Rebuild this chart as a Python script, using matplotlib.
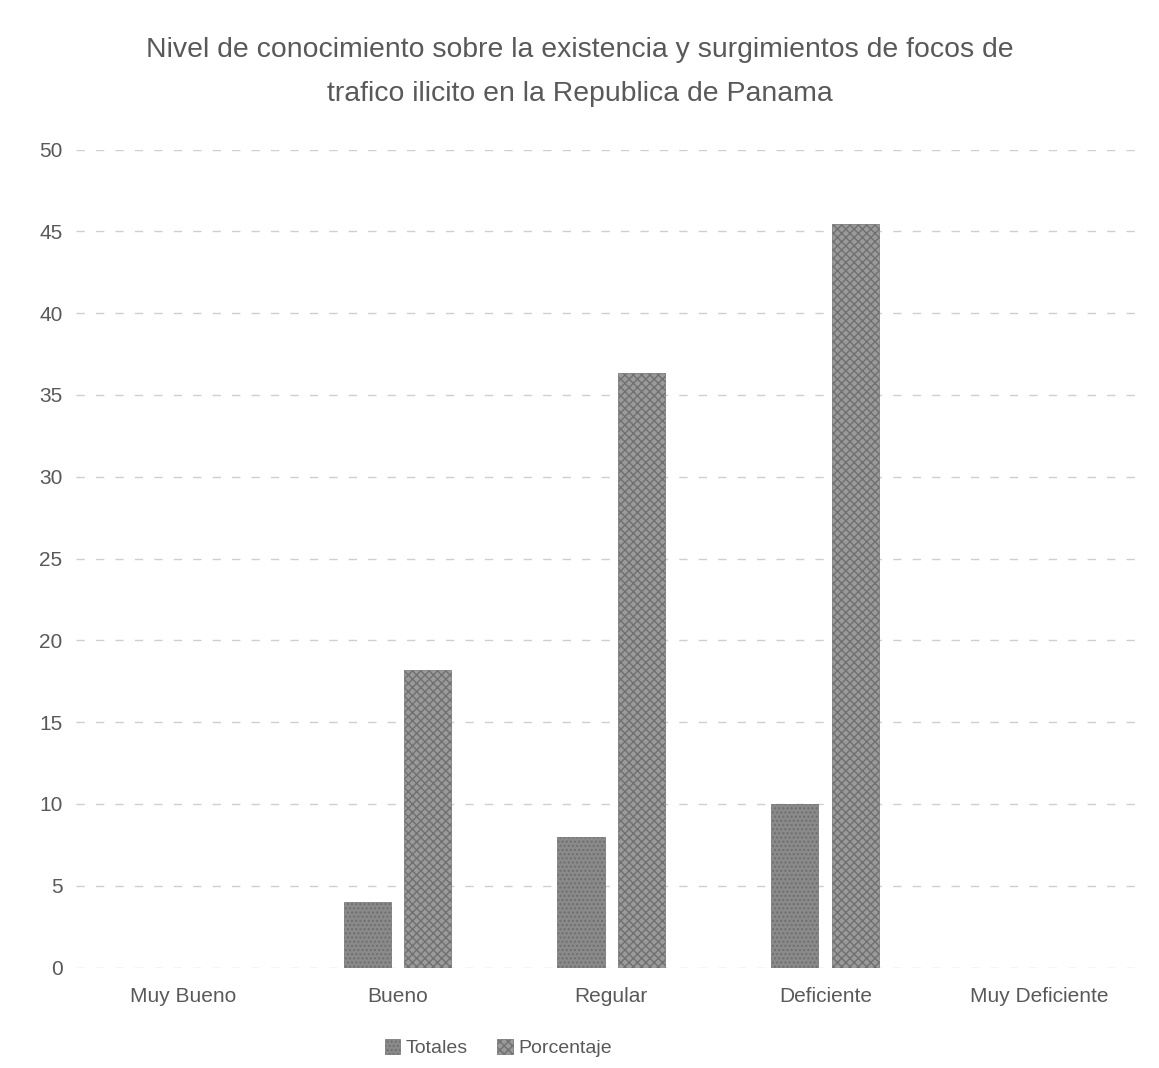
import numpy as np
import matplotlib.pyplot as plt

categorias = ["Muy Bueno", "Bueno", "Regular", "Deficiente", "Muy Deficiente"]
totales = [0, 4, 8, 10, 0]
porcentaje = [0, 18.18, 36.36, 45.45, 0]

plt.rcParams['font.family'] = ['Liberation Sans', 'DejaVu Sans']

fig = plt.figure(figsize=(11.59, 10.68), dpi=100)
ax = fig.add_axes([0.066, 0.094, 0.923, 0.766])

x = np.arange(len(categorias))
w = 0.22
gris = '#595959'

ax.bar(x - 0.032 - w / 2, totales, w, color='#8a8a8a', edgecolor='#6e6e6e',
       hatch='....', linewidth=0.5, label='Totales')
ax.bar(x + 0.032 + w / 2, porcentaje, w, color='#9a9a9a', edgecolor='#707070',
       hatch='xxxx', linewidth=0.5, label='Porcentaje')

ax.set_xlim(-0.5, 4.5)
ax.set_ylim(0, 50)
ax.set_yticks(range(0, 51, 5))
ax.set_xticks(x)
ax.set_xticklabels(categorias)
ax.tick_params(axis='both', length=0, labelsize=15, colors=gris)
ax.tick_params(axis='x', pad=14)
ax.tick_params(axis='y', pad=10)
ax.grid(axis='y', color='#cfcfcf', linestyle=(0, (6, 8)), linewidth=1)
ax.set_axisbelow(True)
for s in ax.spines.values():
    s.set_visible(False)

fig.suptitle("Nivel de conocimiento sobre la existencia y surgimientos de focos de\n"
             "trafico ilicito en la Republica de Panama",
             y=0.965, fontsize=20.4, color=gris, linespacing=1.9)

fig.legend(loc='lower center', bbox_to_anchor=(0.43, -0.006), ncol=2, frameon=False,
           fontsize=14, labelcolor=gris, handlelength=0.8, handleheight=0.8,
           columnspacing=1.5, handletextpad=0.3)

fig.savefig("out.png")
